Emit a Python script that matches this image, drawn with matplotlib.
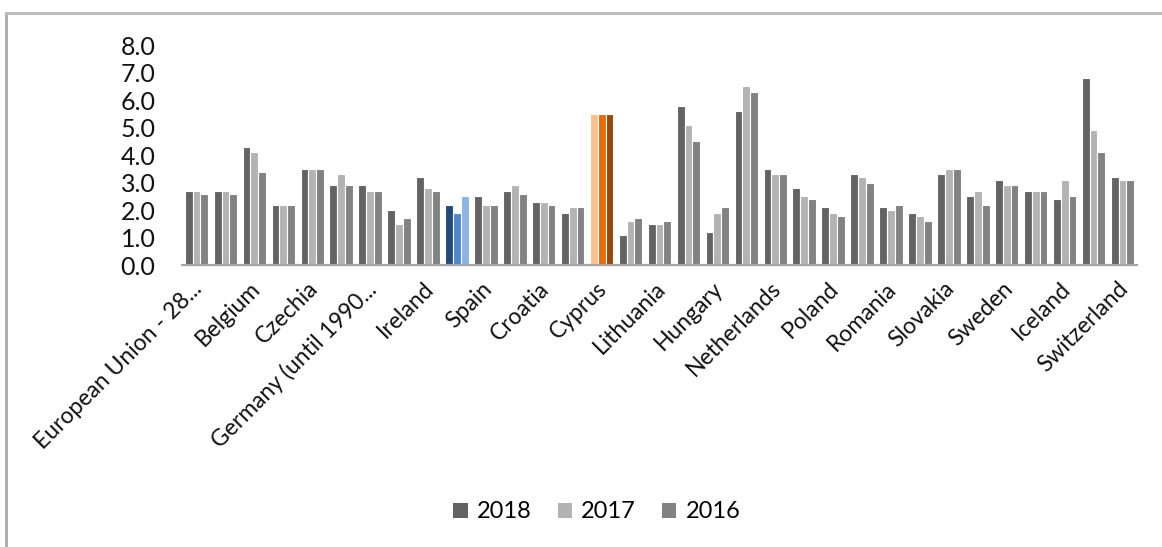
import matplotlib
matplotlib.use("Agg")
import matplotlib.pyplot as plt
import matplotlib.transforms as mtransforms
from matplotlib.lines import Line2D
from matplotlib.patches import Patch
import numpy as np

plt.rcParams['font.family'] = ['Lato', 'DejaVu Sans']

countries = [
    "European Union - 28...", "Euro area", "Belgium", "Bulgaria", "Czechia",
    "Denmark", "Germany (until 1990...", "Estonia", "Ireland", "Greece",
    "Spain", "France", "Croatia", "Italy", "Cyprus", "Latvia", "Lithuania",
    "Luxembourg", "Hungary", "Malta", "Netherlands", "Austria", "Poland",
    "Portugal", "Romania", "Slovenia", "Slovakia", "Finland", "Sweden",
    "United Kingdom", "Iceland", "Norway", "Switzerland",
]
years = ["2018", "2017", "2016"]

v2018 = [2.7, 2.7, 4.3, 2.2, 3.5, 2.9, 2.9, 2.0, 3.2, 2.2, 2.5, 2.7, 2.3,
         1.9, 5.5, 1.1, 1.5, 5.8, 1.2, 5.6, 3.5, 2.8, 2.1, 3.3, 2.1, 1.9,
         3.3, 2.5, 3.1, 2.7, 2.4, 6.8, 3.2]
v2017 = [2.7, 2.7, 4.1, 2.2, 3.5, 3.3, 2.7, 1.5, 2.8, 1.9, 2.2, 2.9, 2.3,
         2.1, 5.5, 1.6, 1.5, 5.1, 1.9, 6.5, 3.3, 2.5, 1.9, 3.2, 2.0, 1.8,
         3.5, 2.7, 2.9, 2.7, 3.1, 4.9, 3.1]
v2016 = [2.6, 2.6, 3.4, 2.2, 3.5, 2.9, 2.7, 1.7, 2.7, 2.5, 2.2, 2.6, 2.2,
         2.1, 5.5, 1.7, 1.6, 4.5, 2.1, 6.3, 3.3, 2.4, 1.8, 3.0, 2.2, 1.6,
         3.5, 2.2, 2.9, 2.7, 2.5, 4.1, 3.1]

# base colours + the two highlighted countries
gray_cols = ["#636363", "#b3b3b3", "#828282"]
highlight = {
    "Greece": ["#244a7c", "#4f86cf", "#8db3e2"],
    "Cyprus": ["#fbc08f", "#e46c0a", "#984807"],
}

fig = plt.figure(figsize=(11.62, 5.47), dpi=100)
ax = fig.add_axes([182 / 1162, 1 - 265 / 547, (1137 - 182) / 1162, (265 - 45) / 547])

x = np.arange(len(countries))
w = 0.27
series = [v2018, v2017, v2016]
for k, vals in enumerate(series):
    cols = [highlight[c][k] if c in highlight else gray_cols[k] for c in countries]
    ax.bar(x + (k - 1) * w, vals, width=w, color=cols, edgecolor="white",
           linewidth=0.8, label=years[k])

ax.set_xlim(-0.5, len(countries) - 0.5)
ax.set_ylim(0, 8)
ax.set_yticks(np.arange(0, 8.1, 1.0))
ax.set_yticklabels([f"{t:.1f}" for t in np.arange(0, 8.1, 1.0)])
ax.tick_params(axis="y", length=0, pad=19, labelsize=18, labelcolor="#111111")

shown = x[::2]
ax.set_xticks(shown)
ax.set_xticklabels([countries[i] for i in shown], rotation=45, ha="right",
                   rotation_mode="anchor", fontsize=16.5, color="#111111")
ax.tick_params(axis="x", length=0, pad=5)
# nudge the rotated labels a little, like Excel does
shift = mtransforms.ScaledTranslation(-5 / 100, -6 / 100, fig.dpi_scale_trans)
for lab in ax.get_xticklabels():
    lab.set_transform(lab.get_transform() + shift)

for s in ["top", "right", "left"]:
    ax.spines[s].set_visible(False)
ax.spines["bottom"].set_color("#a6a6a6")
ax.spines["bottom"].set_linewidth(1.6)

handles = [Patch(facecolor=c, edgecolor="none") for c in gray_cols]
fig.legend(handles, years, loc="center", bbox_to_anchor=(597 / 1162, 1 - 512 / 547),
           ncol=3, frameon=False, fontsize=17, handlelength=0.6, handleheight=0.6,
           handletextpad=0.4, columnspacing=1.1)

# chart border (top and left edge visible in the original crop)
fig.add_artist(Line2D([6 / 1162, 6 / 1162], [0, 1 - 13 / 547], color="#b0b0b0", lw=2.2))
fig.add_artist(Line2D([6 / 1162, 1], [1 - 13 / 547, 1 - 13 / 547], color="#bdbdbd", lw=2.2))

fig.savefig("out.png", dpi=100)
